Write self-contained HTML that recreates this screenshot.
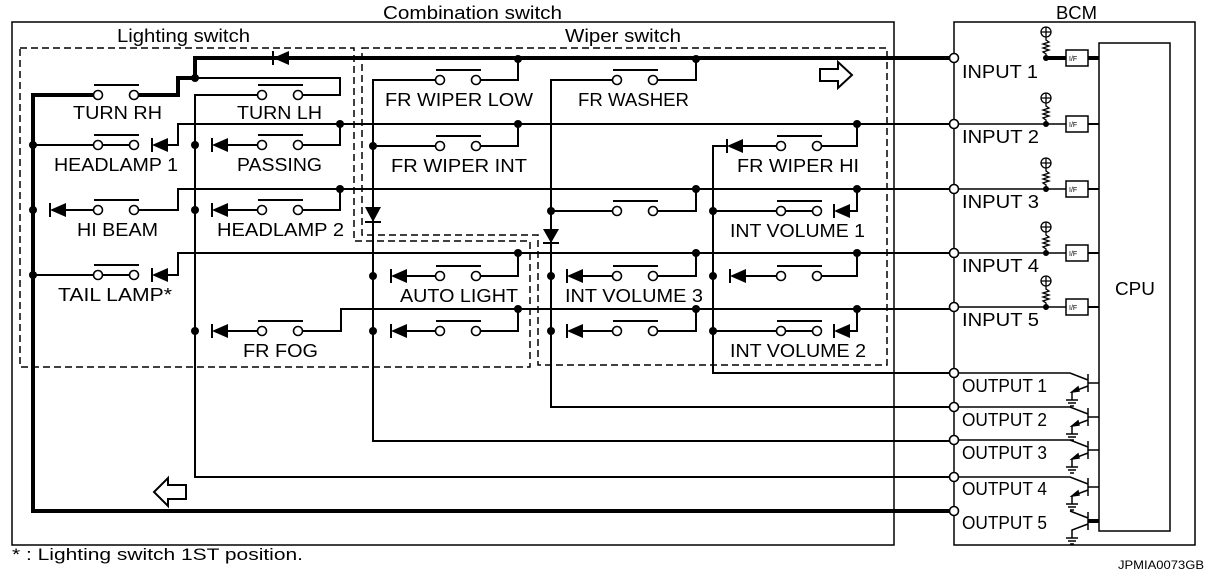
<!DOCTYPE html>
<html><head><meta charset="utf-8"><style>
html,body{margin:0;padding:0;background:#fff;}
svg{display:block;}
text{font-family:"Liberation Sans",Arial,sans-serif;font-size:18px;fill:#000;}
</style></head><body>
<svg width="1216" height="574" viewBox="0 0 1216 574" xmlns="http://www.w3.org/2000/svg">
<defs>
<g id="sw"><line x1="-4" y1="-10" x2="41" y2="-10" stroke="#000" stroke-width="2"/></g>
<g id="dl"><polygon points="0,0 16,-7 16,7"/><rect x="-1" y="-7" width="2" height="14"/></g>
<g id="s"><circle cx="0" cy="0" r="4.5"/><circle cx="36" cy="0" r="4.5"/></g>
</defs>
<g fill="none" stroke="#000">
<rect x="12" y="22" width="882" height="523" stroke-width="1.5"/>
<rect x="954" y="22" width="241" height="523" stroke-width="1.5"/>
<rect x="1099" y="43" width="71" height="488" stroke-width="1.5"/>
<path d="M20 48 H354 V241 H530 V367 H20 Z" stroke-width="1.5" stroke-dasharray="7,4"/>
<path d="M362 48 H887 V365 H538 V235 H362 Z" stroke-width="1.5" stroke-dasharray="7,4"/>
<path d="M954 58 H195 V78 H178 V95 H135" stroke-width="4"/>
<path d="M98 95 H33 V511 H954" stroke-width="4"/>
<path d="M1046 58 H1066 M1088 58 H1099" stroke-width="4"/>
<path d="M1088 521 H1099" stroke-width="4"/>
<g stroke-width="2">
<path d="M195 78 H340 V95 H298 M262 95 H195 V477 H954"/>
<path d="M954 124 H178 V145 H168 M135 145 H33"/>
<path d="M340 124 V145 H298 M262 145 H228"/>
<path d="M954 189 H178 V210 H135 M98 210 H66"/>
<path d="M340 189 V210 H298 M262 210 H228"/>
<path d="M954 253 H178 V275 H168 M135 275 H33"/>
<path d="M954 309 H341 V331 H298 M262 331 H228"/>
<path d="M518 59 V80 H475 M440 80 H373 V441 H954"/>
<path d="M696 59 V80 H652 M617 80 H551 V407 H954"/>
<path d="M518 124 V146 H475 M440 146 H373"/>
<path d="M857 124 V146 H816 M781 146 H743 M727 146 H713 V373 H954"/>
<path d="M696 189 V211 H652 M617 211 H551"/>
<path d="M857 189 V211 H850 M816 211 H781 M781 211 H713"/>
<path d="M518 253 V276 H475 M440 276 H407"/>
<path d="M696 253 V276 H652 M617 276 H583"/>
<path d="M857 253 V276 H816 M781 276 H746"/>
<path d="M518 309 V331 H475 M440 331 H407"/>
<path d="M696 309 V331 H652 M617 331 H583"/>
<path d="M857 309 V331 H850 M816 331 H713"/>
<path d="M1088 124 H1099 M1088 189 H1099 M1088 253 H1099 M1088 307 H1099"/>
</g>
<g stroke-width="1.5" fill="#fff">
<rect x="1066" y="50" width="22" height="16"/>
<rect x="1066" y="116" width="22" height="16"/>
<rect x="1066" y="181" width="22" height="16"/>
<rect x="1066" y="245" width="22" height="16"/>
<rect x="1066" y="299" width="22" height="16"/>
</g>
<g stroke-width="1.5">
<path d="M954 124 H1066 M954 189 H1066 M954 253 H1066 M954 307 H1066"/>
</g>
</g>
<g fill="none" stroke="#000" stroke-width="1.3">
<g id="pu1"><path d="M1046 58 V54 l-3 -2 l6 -2 l-6 -2 l6 -2 l-6 -2 l6 -2 l-3 -2 V37"/><circle cx="1046" cy="32" r="5"/><path d="M1041 32 H1051 M1046 27 V37"/></g>
<use href="#pu1" y="66"/><use href="#pu1" y="131"/><use href="#pu1" y="195"/><use href="#pu1" y="249"/>
</g>
<g fill="none" stroke="#000" stroke-width="1.5">
<g id="tr"><path d="M954 373 H1070 L1088 380 M1088 374 V392 M1088 383 H1099 M1088 386 L1072 392 V400 M1066 400 H1078 M1068 403 H1076 M1070 406 H1074"/><path d="M1072 392 l6 -5 l1 4 z" fill="#000"/></g>
<use href="#tr" y="34"/><use href="#tr" y="67"/><use href="#tr" y="104"/>
<g transform="translate(0,138)"><path d="M1070 373 L1088 380 M1088 374 V392 M1088 386 L1072 392 V400 M1066 400 H1078 M1068 403 H1076 M1070 406 H1074"/></g>
</g>
<g fill="#000">
<circle cx="195" cy="78" r="4"/>
<circle cx="33" cy="145" r="4"/><circle cx="195" cy="145" r="4"/><circle cx="340" cy="124" r="4"/>
<circle cx="33" cy="210" r="4"/><circle cx="195" cy="210" r="4"/><circle cx="340" cy="189" r="4"/>
<circle cx="33" cy="275" r="4"/><circle cx="195" cy="331" r="4"/>
<circle cx="518" cy="59" r="4"/><circle cx="696" cy="59" r="4"/>
<circle cx="518" cy="124" r="4"/><circle cx="857" cy="124" r="4"/><circle cx="373" cy="146" r="4"/>
<circle cx="696" cy="189" r="4"/><circle cx="857" cy="189" r="4"/><circle cx="551" cy="211" r="4"/><circle cx="713" cy="211" r="4"/>
<circle cx="518" cy="253" r="4"/><circle cx="696" cy="253" r="4"/><circle cx="857" cy="253" r="4"/>
<circle cx="373" cy="276" r="4"/><circle cx="551" cy="276" r="4"/><circle cx="713" cy="276" r="4"/>
<circle cx="518" cy="309" r="4"/><circle cx="696" cy="309" r="4"/><circle cx="857" cy="309" r="4"/>
<circle cx="373" cy="331" r="4"/><circle cx="551" cy="331" r="4"/><circle cx="713" cy="331" r="4"/>
<circle cx="1046" cy="58" r="3"/><circle cx="1046" cy="124" r="3"/><circle cx="1046" cy="189" r="3"/><circle cx="1046" cy="253" r="3"/><circle cx="1046" cy="307" r="3"/>
<use href="#dl" x="273" y="58"/>
<use href="#dl" x="152" y="145"/><use href="#dl" x="212" y="145"/>
<use href="#dl" x="50" y="210"/><use href="#dl" x="212" y="210"/>
<use href="#dl" x="152" y="275"/><use href="#dl" x="212" y="331"/>
<use href="#dl" x="727" y="146"/><use href="#dl" x="834" y="211"/>
<use href="#dl" x="391" y="276"/><use href="#dl" x="567" y="276"/><use href="#dl" x="730" y="276"/>
<use href="#dl" x="391" y="331"/><use href="#dl" x="567" y="331"/><use href="#dl" x="834" y="331"/>
<polygon points="365,207 381,207 373,222"/><rect x="365" y="221" width="16" height="2"/>
<polygon points="543,229 559,229 551,243"/><rect x="543" y="242" width="16" height="2"/>
</g>
<g stroke="#000" stroke-width="1.6" fill="#fff">
<g transform="translate(98,95)"><use href="#sw"/><use href="#s"/></g>
<g transform="translate(262,95)"><use href="#sw"/><use href="#s"/></g>
<g transform="translate(98,145)"><use href="#sw"/><use href="#s"/></g>
<g transform="translate(262,145)"><use href="#sw"/><use href="#s"/></g>
<g transform="translate(98,210)"><use href="#sw"/><use href="#s"/></g>
<g transform="translate(262,210)"><use href="#sw"/><use href="#s"/></g>
<g transform="translate(98,275)"><use href="#sw"/><use href="#s"/></g>
<g transform="translate(262,331)"><use href="#sw"/><use href="#s"/></g>
<g transform="translate(440,80)"><use href="#sw"/><use href="#s"/></g>
<g transform="translate(617,80)"><use href="#sw"/><use href="#s"/></g>
<g transform="translate(440,146)"><use href="#sw"/><use href="#s"/></g>
<g transform="translate(781,146)"><use href="#sw"/><use href="#s"/></g>
<g transform="translate(617,211)"><use href="#sw"/><use href="#s"/></g>
<g transform="translate(781,211)"><use href="#sw"/><use href="#s"/></g>
<g transform="translate(440,276)"><use href="#sw"/><use href="#s"/></g>
<g transform="translate(617,276)"><use href="#sw"/><use href="#s"/></g>
<g transform="translate(781,276)"><use href="#sw"/><use href="#s"/></g>
<g transform="translate(440,331)"><use href="#sw"/><use href="#s"/></g>
<g transform="translate(617,331)"><use href="#sw"/><use href="#s"/></g>
<g transform="translate(781,331)"><use href="#sw"/><use href="#s"/></g>
<circle cx="954" cy="58" r="4.5"/><circle cx="954" cy="124" r="4.5"/><circle cx="954" cy="189" r="4.5"/><circle cx="954" cy="253" r="4.5"/><circle cx="954" cy="307" r="4.5"/>
<circle cx="954" cy="373" r="4.5"/><circle cx="954" cy="407" r="4.5"/><circle cx="954" cy="440" r="4.5"/><circle cx="954" cy="477" r="4.5"/><circle cx="954" cy="511" r="4.5"/>
</g>
<path d="M820 69 H838 V62 L852 75 L838 88 V81 H820 Z" fill="#fff" stroke="#000" stroke-width="2"/>
<path d="M186 485 H168 V478 L154 492 L168 506 V499 H186 Z" fill="#fff" stroke="#000" stroke-width="2"/>
<text x="383" y="19" textLength="179" lengthAdjust="spacingAndGlyphs">Combination switch</text>
<text x="1056" y="19" textLength="41" lengthAdjust="spacingAndGlyphs">BCM</text>
<text x="117" y="42" textLength="133" lengthAdjust="spacingAndGlyphs">Lighting switch</text>
<text x="565" y="42" textLength="116" lengthAdjust="spacingAndGlyphs">Wiper switch</text>
<text x="73" y="119" textLength="89" lengthAdjust="spacingAndGlyphs">TURN RH</text>
<text x="237" y="119" textLength="85" lengthAdjust="spacingAndGlyphs">TURN LH</text>
<text x="54" y="171" textLength="124" lengthAdjust="spacingAndGlyphs">HEADLAMP 1</text>
<text x="237" y="171" textLength="85" lengthAdjust="spacingAndGlyphs">PASSING</text>
<text x="77" y="236" textLength="81" lengthAdjust="spacingAndGlyphs">HI BEAM</text>
<text x="217" y="236" textLength="127" lengthAdjust="spacingAndGlyphs">HEADLAMP 2</text>
<text x="58" y="301" textLength="114" lengthAdjust="spacingAndGlyphs">TAIL LAMP*</text>
<text x="243" y="357" textLength="75" lengthAdjust="spacingAndGlyphs">FR FOG</text>
<text x="385" y="106" textLength="148" lengthAdjust="spacingAndGlyphs">FR WIPER LOW</text>
<text x="578" y="106" textLength="111" lengthAdjust="spacingAndGlyphs">FR WASHER</text>
<text x="391" y="172" textLength="136" lengthAdjust="spacingAndGlyphs">FR WIPER INT</text>
<text x="737" y="172" textLength="122" lengthAdjust="spacingAndGlyphs">FR WIPER HI</text>
<text x="730" y="237" textLength="135" lengthAdjust="spacingAndGlyphs">INT VOLUME 1</text>
<text x="400" y="302" textLength="118" lengthAdjust="spacingAndGlyphs">AUTO LIGHT</text>
<text x="565" y="302" textLength="138" lengthAdjust="spacingAndGlyphs">INT VOLUME 3</text>
<text x="730" y="357" textLength="136" lengthAdjust="spacingAndGlyphs">INT VOLUME 2</text>
<text x="962" y="78" textLength="76" lengthAdjust="spacingAndGlyphs">INPUT 1</text>
<text x="962" y="143" textLength="77" lengthAdjust="spacingAndGlyphs">INPUT 2</text>
<text x="962" y="208" textLength="77" lengthAdjust="spacingAndGlyphs">INPUT 3</text>
<text x="962" y="272" textLength="77" lengthAdjust="spacingAndGlyphs">INPUT 4</text>
<text x="962" y="326" textLength="77" lengthAdjust="spacingAndGlyphs">INPUT 5</text>
<text x="962" y="392" textLength="85" lengthAdjust="spacingAndGlyphs">OUTPUT 1</text>
<text x="962" y="426" textLength="85" lengthAdjust="spacingAndGlyphs">OUTPUT 2</text>
<text x="962" y="459" textLength="85" lengthAdjust="spacingAndGlyphs">OUTPUT 3</text>
<text x="962" y="495" textLength="85" lengthAdjust="spacingAndGlyphs">OUTPUT 4</text>
<text x="962" y="529" textLength="85" lengthAdjust="spacingAndGlyphs">OUTPUT 5</text>
<text x="1115" y="295" textLength="40" lengthAdjust="spacingAndGlyphs">CPU</text>
<text x="1069" y="61" style="font-size:7px">I/F</text><text x="1069" y="127" style="font-size:7px">I/F</text><text x="1069" y="192" style="font-size:7px">I/F</text><text x="1069" y="256" style="font-size:7px">I/F</text><text x="1069" y="310" style="font-size:7px">I/F</text>
<text x="12" y="560" textLength="291" lengthAdjust="spacingAndGlyphs" style="font-size:17px">* : Lighting switch 1ST position.</text>
<text x="1118" y="569" textLength="86" lengthAdjust="spacingAndGlyphs" style="font-size:12px">JPMIA0073GB</text>
</svg>
</body></html>
